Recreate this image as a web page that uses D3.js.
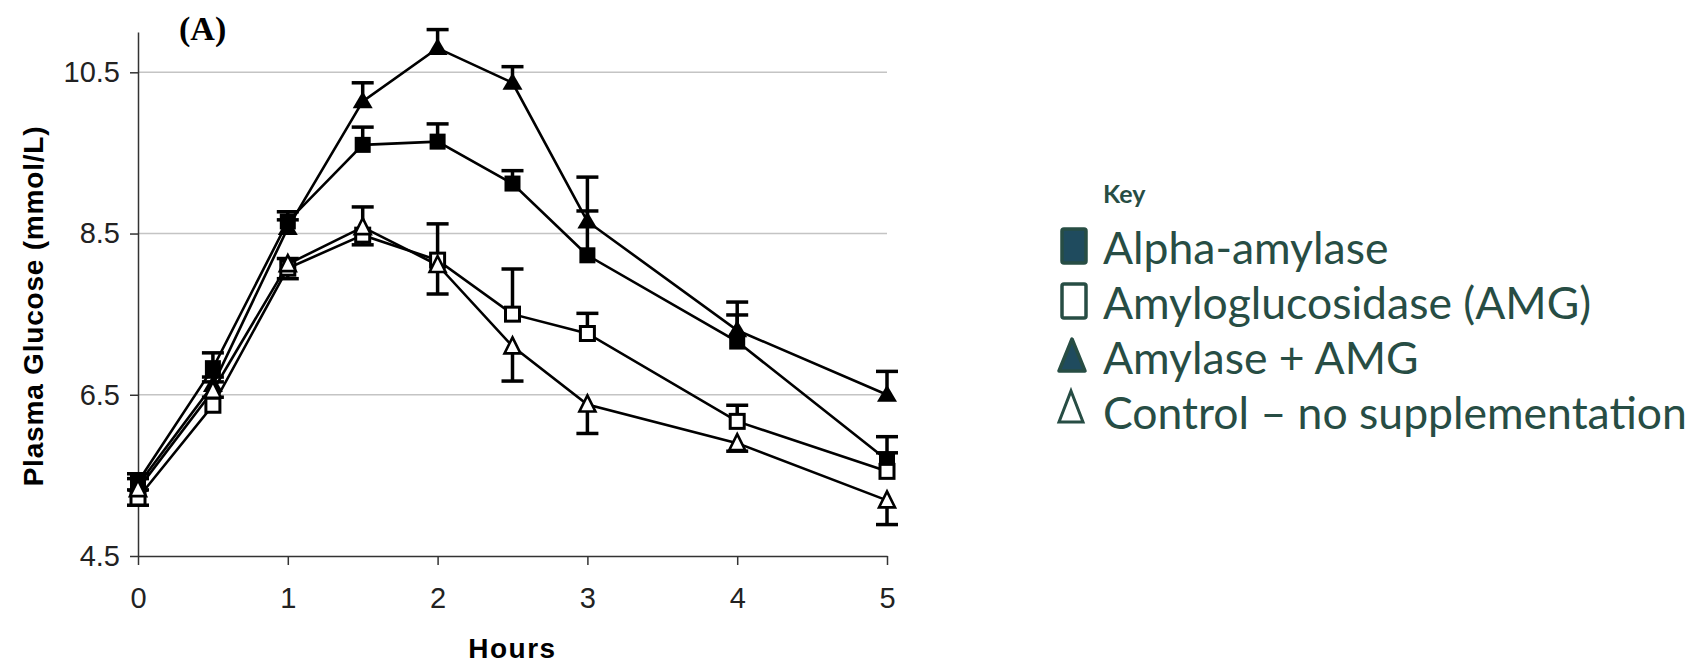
<!DOCTYPE html>
<html>
<head>
<meta charset="utf-8">
<script src="https://cdn.jsdelivr.net/npm/d3@7"></script>
<style>
  body { margin: 0; background: #fff; }
  .axis text { font-family: "Liberation Sans", Arial, sans-serif; font-size: 29px; fill: #222; }
  .axis path, .axis line { stroke: #333; stroke-width: 1.5px; }
  .legend text { font-family: Lato, "Open Sans", sans-serif; fill: #274d44; }
</style>
</head>
<body>
<div id="chart"></div>
<script>
// plasma glucose after starch meal, 4 treatments

var hours = [0, 0.5, 1, 1.5, 2, 2.5, 3, 4, 5]

var alphaAmylase    = [5.42, 6.83, 8.65, 9.60, 9.64, 9.12, 8.23, 7.16, 5.69]
var alphaAmylaseErr = [0.10, 0.19, 0.12, 0.22, 0.22, 0.16, 0.55, 0.33, 0.29]

var amg    = [5.22, 6.37, 8.07, 8.48, 8.17, 7.50, 7.26, 6.17, 5.55]
var amgErr = [0.10, 0.29, 0.12, 0.35, 0.45, 0.56, 0.25, 0.20, 0.23]

var amylaseAmg    = [5.38, 6.62, 8.57, 10.14, 10.80, 10.37, 8.65, 7.30, 6.50]
var amylaseAmgErr = [0.08, 0.10, 0.10, 0.23, 0.23, 0.20, 0.55, 0.35, 0.29]

var control    = [5.33, 6.55, 8.12, 8.58, 8.11, 7.10, 6.38, 5.90, 5.19]
var controlErr = [0.20, 0.08, 0.18, 0.22, 0.36, 0.43, 0.36, 0.10, 0.30]

var yTicks = [4.5, 6.5, 8.5, 10.5]
var xTicks = [0, 1, 2, 3, 4, 5]

var legendLabels = ["Alpha-amylase", "Amyloglucosidase (AMG)", "Amylase + AMG", "Control \u2013 no supplementation"]

var width = 1701, height = 663
var plot = {left: 138, right: 887, top: 32, bottom: 556}

var svg = d3.select("#chart").append("svg")
  .attr("width", width)
  .attr("height", height)

var x = d3.scaleLinear().domain([0, 5]).range([plot.left, plot.right])
var y = d3.scaleLinear().domain([4.5, 11]).range([plot.bottom, plot.top])

// gridlines
svg.append("g").selectAll("line")
  .data(yTicks.filter(function(d) { return d > 4.5 }))
  .enter().append("line")
    .attr("x1", plot.left).attr("x2", plot.right)
    .attr("y1", function(d) { return y(d) }).attr("y2", function(d) { return y(d) })
    .attr("stroke", "#c4c4c4").attr("stroke-width", 1.5)

svg.append("g")
  .attr("class", "axis")
  .attr("transform", "translate(" + plot.left + ",0)")
  .call(d3.axisLeft(y).tickValues(yTicks).tickFormat(d3.format(".1f")).tickSize(8).tickSizeOuter(0).tickPadding(10))

svg.append("g")
  .attr("class", "axis")
  .attr("transform", "translate(0," + plot.bottom + ")")
  .call(d3.axisBottom(x).tickValues(xTicks).tickFormat(d3.format("d")).tickSize(9).tickSizeOuter(0).tickPadding(22))

svg.selectAll(".axis .domain").attr("stroke", "#333")

// titles
svg.append("text")
  .attr("transform", "translate(43,306) rotate(-90)")
  .attr("text-anchor", "middle")
  .style("font-family", "Liberation Sans, Arial, sans-serif")
  .style("font-weight", "bold")
  .style("font-size", "28px")
  .style("letter-spacing", "0.8px")
  .text("Plasma Glucose (mmol/L)")

svg.append("text")
  .attr("x", (plot.left + plot.right) / 2)
  .attr("y", 658)
  .attr("text-anchor", "middle")
  .style("font-family", "Liberation Sans, Arial, sans-serif")
  .style("font-weight", "bold")
  .style("font-size", "28px")
  .style("letter-spacing", "1.5px")
  .text("Hours")

svg.append("text")
  .attr("x", 179).attr("y", 40)
  .style("font-family", "Liberation Serif, Times New Roman, serif")
  .style("font-weight", "bold")
  .style("font-size", "34px")
  .text("(A)")

var series = [
  {name: legendLabels[0], values: alphaAmylase, err: alphaAmylaseErr, dir: 1, shape: "square", filled: true},
  {name: legendLabels[1], values: amg, err: amgErr, dir: 1, shape: "square", filled: false},
  {name: legendLabels[2], values: amylaseAmg, err: amylaseAmgErr, dir: 1, shape: "triangle", filled: true},
  {name: legendLabels[3], values: control, err: controlErr, dir: -1, shape: "triangle", filled: false}
]

var line = d3.line()
  .x(function(d) { return x(d[0]) })
  .y(function(d) { return y(d[1]) })

series.forEach(function(s) {
  var pts = hours.map(function(h, i) { return [h, s.values[i], s.err[i]] })
  svg.append("path")
    .datum(pts)
    .attr("d", line)
    .attr("fill", "none")
    .attr("stroke", "#000")
    .attr("stroke-width", 2.6)
})

series.forEach(function(s) {
  var pts = hours.map(function(h, i) { return [h, s.values[i], s.err[i]] })
  var g = svg.append("g")
  var eb = g.selectAll(".eb").data(pts).enter().append("g")
  eb.append("line")
    .attr("x1", function(d) { return x(d[0]) }).attr("x2", function(d) { return x(d[0]) })
    .attr("y1", function(d) { return y(d[1]) })
    .attr("y2", function(d) { return y(d[1] + s.dir * d[2]) })
    .attr("stroke", "#000").attr("stroke-width", 3.5)
  eb.append("line")
    .attr("x1", function(d) { return x(d[0]) - 11 }).attr("x2", function(d) { return x(d[0]) + 11 })
    .attr("y1", function(d) { return y(d[1] + s.dir * d[2]) })
    .attr("y2", function(d) { return y(d[1] + s.dir * d[2]) })
    .attr("stroke", "#000").attr("stroke-width", 3.5)
})

var triFilled = "M0,-10L10,7L-10,7Z"
var triOpen = "M0,-9L8,7L-8,7Z"

series.forEach(function(s) {
  var pts = hours.map(function(h, i) { return [h, s.values[i]] })
  var m = svg.append("g").selectAll(".m").data(pts).enter()
  if (s.shape == "square") {
    var sz = s.filled ? 16 : 14
    m.append("rect")
      .attr("x", function(d) { return x(d[0]) - sz / 2 })
      .attr("y", function(d) { return y(d[1]) - sz / 2 })
      .attr("width", sz).attr("height", sz)
      .attr("fill", s.filled ? "#000" : "#fff")
      .attr("stroke", "#000").attr("stroke-width", s.filled ? 0 : 3)
  } else {
    m.append("path")
      .attr("d", s.filled ? triFilled : triOpen)
      .attr("transform", function(d) { return "translate(" + x(d[0]) + "," + y(d[1]) + ")" })
      .attr("fill", s.filled ? "#000" : "#fff")
      .attr("stroke", "#000").attr("stroke-width", s.filled ? 0 : 2.6)
  }
})

// key
var legend = svg.append("g").attr("class", "legend")
legend.append("text")
  .attr("x", 1103).attr("y", 203)
  .style("font-weight", "bold").style("font-size", "25px")
  .text("Key")

var rowY = [264, 319, 374, 429]
var items = legend.selectAll(".item").data(series).enter().append("g")
  .attr("transform", function(d, i) { return "translate(0," + rowY[i] + ")" })

items.append("text")
  .attr("x", 1103).attr("y", 0)
  .style("font-size", "44.5px")
  .text(function(d) { return d.name })

items.each(function(d) {
  var g = d3.select(this)
  if (d.shape == "square") {
    g.append("rect")
      .attr("x", 1062).attr("y", -35).attr("width", 24).attr("height", 34).attr("rx", 2)
      .attr("fill", d.filled ? "#1f4b5e" : "#fff")
      .attr("stroke", "#274d44").attr("stroke-width", 3.5)
  } else if (d.filled) {
    g.append("path")
      .attr("d", "M1072,-35L1085,-3L1059,-3Z")
      .attr("fill", "#1f4b5e").attr("stroke", "#274d44").attr("stroke-width", 3.5)
      .attr("stroke-linejoin", "round")
  } else {
    g.append("path")
      .attr("d", "M1071,-38L1083,-7L1059,-7Z")
      .attr("fill", "none").attr("stroke", "#274d44").attr("stroke-width", 3)
  }
})
</script>
</body>
</html>
